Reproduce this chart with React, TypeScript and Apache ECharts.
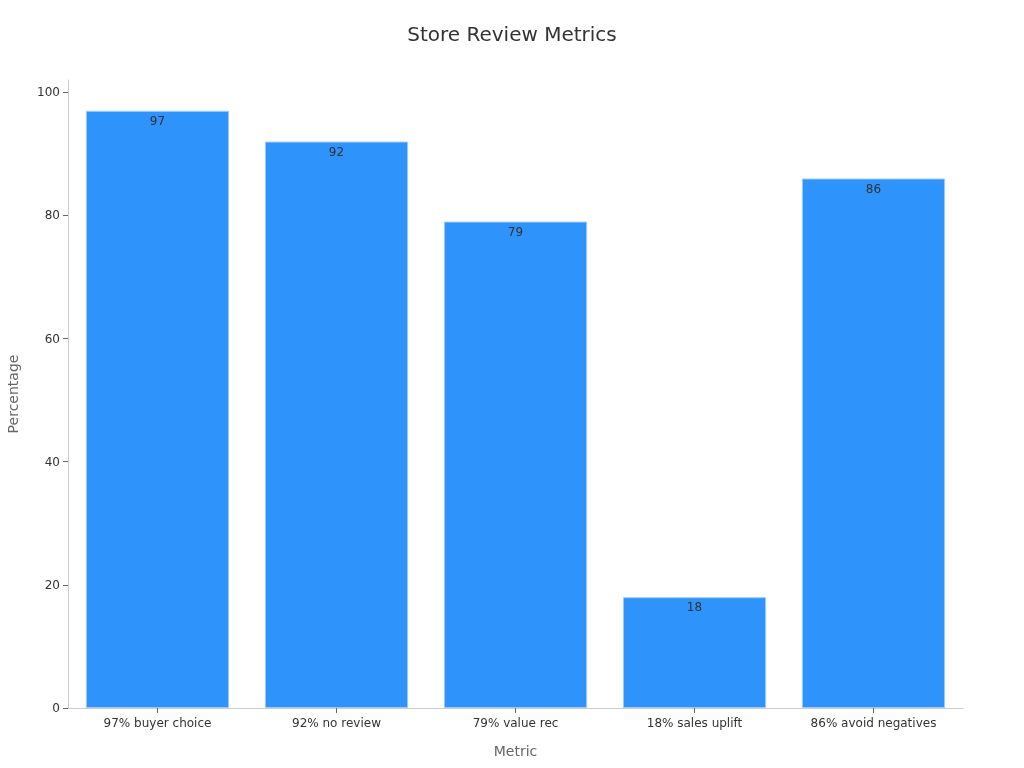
import React, { useEffect, useRef } from "react";
import * as echarts from "echarts";

const categories = ["97% buyer choice", "92% no review", "79% value rec", "18% sales uplift", "86% avoid negatives"];
const values = [97, 92, 79, 18, 86];
const yTicks = [0, 20, 40, 60, 80, 100];

export default function App() {
  const ref = useRef<HTMLDivElement>(null);
  useEffect(() => {
    if (!ref.current) return;
    const chart = echarts.init(ref.current, undefined, { renderer: "svg" });
    chart.setOption({
      animation: false,
      textStyle: { fontFamily: "DejaVu Sans" },
      title: {
        text: "Store Review Metrics",
        left: "center",
        top: 19,
        textStyle: { fontSize: 20, fontWeight: "normal", color: "#333", fontFamily: "DejaVu Sans" },
      },
      grid: { left: 68, right: 61, top: 80, bottom: 60, outerBoundsMode: "none", containLabel: false },
      xAxis: {
        type: "category",
        data: categories,
        name: "Metric",
        nameLocation: "middle",
        nameGap: 36,
        nameTextStyle: { fontSize: 14, color: "#666", fontFamily: "DejaVu Sans" },
        axisLine: { show: true, lineStyle: { color: "#ccc" } },
        axisTick: { show: true, alignWithLabel: true, lineStyle: { color: "#666" } },
        axisLabel: { fontSize: 12, color: "#333", margin: 9, fontFamily: "DejaVu Sans" },
      },
      yAxis: {
        type: "value",
        min: 0,
        max: 102,
        name: "Percentage",
        nameLocation: "middle",
        nameGap: 48,
        nameTextStyle: { fontSize: 14, color: "#666", fontFamily: "DejaVu Sans" },
        axisLine: { show: true, lineStyle: { color: "#ccc" } },
        axisTick: { show: true, customValues: yTicks, lineStyle: { color: "#666" } },
        axisLabel: { fontSize: 12, color: "#333", margin: 8, customValues: yTicks, fontFamily: "DejaVu Sans" },
        splitLine: { show: false },
      },
      series: [
        {
          type: "bar",
          data: values,
          barCategoryGap: "20%",
          itemStyle: { color: "#2E93FA", borderColor: "#9ccbfb", borderWidth: 1 },
          label: {
            show: true,
            position: "insideTop",
            distance: 4,
            fontSize: 12,
            color: "#333",
            fontFamily: "DejaVu Sans",
          },
        },
      ],
    });
    return () => chart.dispose();
  }, []);
  return <div ref={ref} style={{ position: "fixed", left: 0, top: 0, width: 1024, height: 768 }} />;
}
